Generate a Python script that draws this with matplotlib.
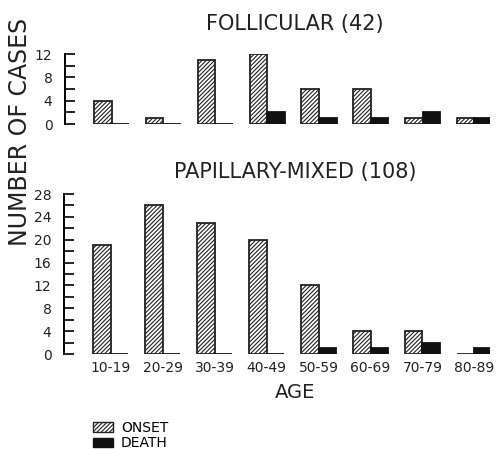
import numpy as np
import matplotlib
matplotlib.use("Agg")
import matplotlib.pyplot as plt
from matplotlib.patches import Patch

plt.rcParams['font.family'] = ['DejaVu Sans']
plt.rcParams['hatch.linewidth'] = 0.8

# data
ages = ['10-19', '20-29', '30-39', '40-49', '50-59', '60-69', '70-79', '80-89']
foll_onset = [4, 1, 11, 12, 6, 6, 1, 1]
foll_death = [0, 0, 0, 2, 1, 1, 2, 1]
pap_onset = [19, 26, 23, 20, 12, 4, 4, 0]
pap_death = [0, 0, 0, 0, 1, 1, 2, 1]

W, H = 500, 449
fig = plt.figure(figsize=(W / 100, H / 100), dpi=100)


def px_axes(left, top, right, bottom):
    return fig.add_axes([left / W, 1 - bottom / H, (right - left) / W, (bottom - top) / H])


def draw_panel(ax, onset, death, ymax):
    x = np.arange(len(ages))
    w = 0.34
    ax.bar(x - w / 2, onset, w, facecolor='white', edgecolor='#222222',
           hatch='////////', linewidth=1.3)
    ax.bar(x + w / 2, death, w, facecolor='#111111', edgecolor='#111111', linewidth=1.3)
    ax.set_xlim(-0.9, 7.3)
    ax.set_ylim(0, ymax)
    for s in ['top', 'right', 'bottom']:
        ax.spines[s].set_visible(False)
    ax.spines['left'].set_bounds(0, ymax)
    ax.spines['left'].set_linewidth(1.4)
    ax.set_yticks(np.arange(0, ymax + 1, 4))
    ax.set_yticks(np.arange(0, ymax + 1, 2), minor=True)
    ax.tick_params(axis='y', which='both', direction='in', length=7, width=1.4,
                   labelsize=10, pad=9, colors='#222222')
    ax.patch.set_visible(False)


ax1 = px_axes(65, 54, 490, 124)
draw_panel(ax1, foll_onset, foll_death, 12)
ax1.set_xticks([])

ax2 = px_axes(64, 194, 490, 354)
draw_panel(ax2, pap_onset, pap_death, 28)
ax2.set_xticks(np.arange(len(ages)))
ax2.set_xticklabels(ages, fontsize=10)
ax2.tick_params(axis='x', length=0, pad=5, colors='#222222')

fig.text(295 / W, 1 - 24 / H, 'FOLLICULAR (42)', ha='center', va='center',
         fontsize=15, color='#222222')
fig.text(295 / W, 1 - 172 / H, 'PAPILLARY-MIXED (108)', ha='center', va='center',
         fontsize=15, color='#222222')
fig.text(295 / W, 1 - 393 / H, 'AGE', ha='center', va='center', fontsize=14,
         color='#222222')
fig.text(20 / W, 1 - 132 / H, 'NUMBER OF CASES', ha='center', va='center',
         rotation=90, fontsize=17, color='#222222')

handles = [Patch(facecolor='white', edgecolor='#222222', hatch='////////', label='ONSET'),
           Patch(facecolor='#111111', edgecolor='#111111', label='DEATH')]
fig.legend(handles=handles, loc='upper left', bbox_to_anchor=(93 / W, 1 - 421 / H),
           frameon=False, fontsize=10, handlelength=1.45, handleheight=0.7,
           labelspacing=0.1, handletextpad=0.55, borderpad=0, borderaxespad=0)

fig.savefig('out.png', dpi=100)
